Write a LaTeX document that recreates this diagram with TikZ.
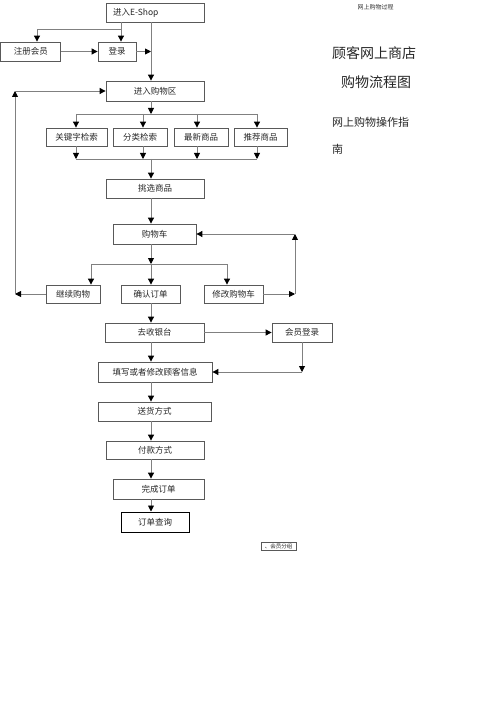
\documentclass[tikz,border=0pt]{standalone}
\usepackage{fontspec}
\newfontfamily\cjk{Noto Sans CJK SC}
\usetikzlibrary{arrows.meta}
\begin{document}
\begin{tikzpicture}[x=1pt,y=-1pt,
  bx/.style={draw=black!65,line width=0.8pt,inner sep=0pt,font=\cjk\fontsize{8.5}{10}\selectfont,text=black!85},
  ln/.style={draw=black!50,line width=0.9pt},
  arr/.style={ln,-{Triangle[length=6pt,width=6pt,color=black]}},
  ttl/.style={anchor=west,inner sep=0pt,font=\cjk\fontsize{14}{16}\selectfont,text=black!85},
  sub/.style={anchor=west,inner sep=0pt,font=\cjk\fontsize{11}{13}\selectfont,text=black!85}]
\useasboundingbox (0,0) rectangle (500,708);
% boxes
\node[bx,text width=84pt,inner xsep=7pt,minimum height=19pt,align=left] (eshop) at (155,12.5) {进入E-Shop};
\node[bx,minimum width=60pt,minimum height=19pt] (reg) at (30.8,51.5) {注册会员};
\node[bx,minimum width=38pt,minimum height=19pt] (login) at (117,51.5) {登录};
\node[bx,minimum width=98pt,minimum height=20pt] (area) at (155,91) {进入购物区};
\node[bx,minimum width=61pt,minimum height=18pt] (kw) at (76.5,137) {关键字检索};
\node[bx,minimum width=54pt,minimum height=18pt] (cat) at (140,137) {分类检索};
\node[bx,minimum width=54pt,minimum height=18pt] (new) at (201,137) {最新商品};
\node[bx,minimum width=53pt,minimum height=18pt] (rec) at (260.5,137) {推荐商品};
\node[bx,minimum width=98pt,minimum height=19pt] (pick) at (155,188.5) {挑选商品};
\node[bx,minimum width=83pt,minimum height=20pt] (cart) at (154.5,234) {购物车};
\node[bx,minimum width=54pt,minimum height=18pt] (cont) at (73,294) {继续购物};
\node[bx,minimum width=59pt,minimum height=18pt] (confirm) at (150.5,294) {确认订单};
\node[bx,minimum width=59pt,minimum height=18pt] (modify) at (233.5,294) {修改购物车};
\node[bx,minimum width=99pt,minimum height=19pt] (cashier) at (154.5,332.5) {去收银台};
\node[bx,minimum width=60pt,minimum height=19pt] (member) at (302,332.5) {会员登录};
\node[bx,minimum width=114pt,minimum height=20pt] (fill) at (155,372) {填写或者修改顾客信息};
\node[bx,minimum width=113pt,minimum height=19pt] (ship) at (154.5,411.5) {送货方式};
\node[bx,minimum width=98pt,minimum height=18pt] (pay) at (155,450) {付款方式};
\node[bx,minimum width=91pt,minimum height=20pt] (done) at (158.5,489) {完成订单};
\node[bx,draw=black,line width=1pt,minimum width=68pt,minimum height=20pt] (query) at (155,522) {订单查询};
\node[bx,line width=0.6pt,minimum width=35pt,minimum height=8pt,font=\cjk\fontsize{5.5}{6}\selectfont] (group) at (278.5,546) {、会员分组};
% titles
\node[inner sep=0pt,font=\cjk\fontsize{6}{7}\selectfont,text=black!80] (top) at (375.5,7) {网上购物过程};
\node[ttl] (t1) at (332,53) {顾客网上商店};
\node[ttl] (t2) at (341,82) {购物流程图};
\node[sub] (t3) at (332,122) {网上购物操作指};
\node[sub] (t4) at (332,149) {南};
% coordinates
\coordinate (mx) at (151,0);
\coordinate (b1) at (121,29);
\coordinate (b2) at (37,29);
\coordinate (lj) at (151,51.5);
\coordinate (s1) at (151,114);
\coordinate (s1l) at (76,114);
\coordinate (s1r) at (257,114);
\coordinate (s2) at (151,159);
\coordinate (s2l) at (76,159);
\coordinate (s2r) at (257,159);
\coordinate (s3) at (151,264);
\coordinate (s3l) at (91,264);
\coordinate (s3r) at (227,264);
\coordinate (lb) at (15,294);
\coordinate (lt) at (15,91);
\coordinate (rb) at (295,294);
\coordinate (rt) at (295,234);
\coordinate (mb) at (302,372);
% connectors
\draw[arr] (eshop.south -| b1) -- (login.north -| b1);
\draw[arr] (b1) -- (b2) -- (reg.north -| b2);
\draw[arr] (eshop.south -| mx) -- (area.north -| mx);
\draw[arr] (reg.east) -- (login.west);
\draw[arr] (login.east) -- (lj);
\draw[arr] (area.south -| mx) -- (s1);
\draw[ln] (s1l) -- (s1r);
\draw[arr] (s1l) -- (kw.north -| s1l);
\draw[arr] (s1 -| cat) ++(3,0) -- ([xshift=3pt]cat.north);
\draw[arr] (s1 -| new) ++(-4,0) -- ([xshift=-4pt]new.north);
\draw[arr] (s1r) -- (rec.north -| s1r);
\draw[arr] (kw.south -| s2l) -- (s2l);
\draw[arr] ([xshift=3pt]cat.south) -- ([xshift=3pt]cat.south |- s2);
\draw[arr] ([xshift=-4pt]new.south) -- ([xshift=-4pt]new.south |- s2);
\draw[arr] (rec.south -| s2r) -- (s2r);
\draw[ln] (s2l) -- (s2r);
\draw[arr] (s2) -- (pick.north -| mx);
\draw[arr] (pick.south -| mx) -- (cart.north -| mx);
\draw[arr] (cart.south -| mx) -- (s3);
\draw[ln] (s3l) -- (s3r);
\draw[arr] (s3l) -- (cont.north -| s3l);
\draw[arr] (s3) -- (confirm.north -| mx);
\draw[arr] (s3r) -- (modify.north -| s3r);
\draw[arr] (cont.west) -- (lb);
\draw[arr] (lb) -- (lt);
\draw[arr] (lt) -- (area.west);
\draw[arr] (modify.east) -- (rb);
\draw[arr] (rb) -- (rt);
\draw[arr] (rt) -- (cart.east);
\draw[arr] (confirm.south -| mx) -- (cashier.north -| mx);
\draw[arr] (cashier.east) -- (member.west);
\draw[arr] (member.south) -- (mb);
\draw[arr] (mb) -- (fill.east);
\draw[arr] (cashier.south -| mx) -- (fill.north -| mx);
\draw[arr] (fill.south -| mx) -- (ship.north -| mx);
\draw[arr] (ship.south -| mx) -- (pay.north -| mx);
\draw[arr] (pay.south -| mx) -- (done.north -| mx);
\draw[arr] (done.south -| mx) -- (query.north -| mx);
\end{tikzpicture}
\end{document}
